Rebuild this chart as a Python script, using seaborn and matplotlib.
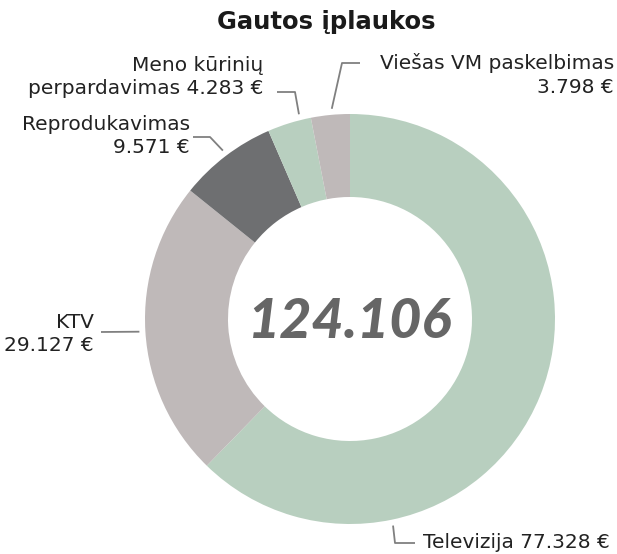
import matplotlib.pyplot as plt
import numpy as np
import seaborn as sns

# data
categories = ["Televizija", "KTV", "Reprodukavimas", "Meno kūrinių perpardavimas", "Viešas VM paskelbimas"]
values = [77328, 29127, 9571, 4283, 3798]
value_labels = ["77.328 €", "29.127 €", "9.571 €", "4.283 €", "3.798 €"]
total_label = "124.106"
title = "Gautos įplaukos"

GREEN = "#b8cfbf"
GREY = "#bfb9b9"
DARK = "#6e6f71"
colors = [GREEN, GREY, DARK, GREEN, GREY]

W, H = 617, 554
CX, CY = 350, 319          # ring centre, image pixels (y down)
R_OUT, R_IN = 205, 122

sns.set_theme(style="white")
plt.rcParams["font.family"] = ["DejaVu Sans"]

fig = plt.figure(figsize=(W / 100, H / 100), dpi=100)
ax = fig.add_axes([0, 0, 1, 1])
ax.axis("off")


def yy(y):
    return H - y


wedges, _ = ax.pie(values, colors=colors, startangle=90, counterclock=False,
                   radius=R_OUT, center=(CX, yy(CY)),
                   wedgeprops=dict(width=R_OUT - R_IN, linewidth=0))
ax.set_xlim(0, W)
ax.set_ylim(0, H)
ax.set_aspect("equal")

# label layout: position along wedge, elbow points, text anchor
layout = [
    dict(f=0.75, pts=[(395, 543), (415, 543)], xy=(423, 543), ha="left",
         text=f"{categories[0]} {value_labels[0]}"),
    dict(f=0.50, pts=[(101, 332)], xy=(94, 334), ha="right",
         text=f"{categories[1]}\n{value_labels[1]}"),
    dict(f=0.51, pts=[(210, 137), (193, 137)], xy=(190, 136), ha="right",
         text=f"{categories[2]}\n{value_labels[2]}"),
    dict(f=0.76, pts=[(295, 92), (277, 92)], xy=(263, 77), ha="right",
         text="Meno kūrinių\nperpardavimas " + value_labels[3]),
    dict(f=0.55, pts=[(342, 63), (360, 63)], xy=(614, 75), ha="right",
         text=f"{categories[4]}\n{value_labels[4]}"),
]

for w, lab in zip(wedges, layout):
    ang = np.deg2rad(w.theta2 - lab["f"] * (w.theta2 - w.theta1))
    sx = CX + 211 * np.cos(ang)
    sy = yy(CY) + 211 * np.sin(ang)
    xs = [sx] + [p[0] for p in lab["pts"]]
    ys = [sy] + [yy(p[1]) for p in lab["pts"]]
    ax.plot(xs, ys, color="#808080", lw=1.3, solid_capstyle="butt")
    ax.text(lab["xy"][0], yy(lab["xy"][1]), lab["text"], ha=lab["ha"], va="center",
            multialignment=lab["ha"], fontsize=14.5, color="#222222",
            linespacing=1.3)

ax.text(CX, yy(322), total_label, ha="center", va="center", fontsize=40,
        fontfamily="Lato", fontweight="black", fontstyle="italic", color="#666666")

ax.text(326, yy(22), title, ha="center", va="center", fontsize=17.5,
        fontweight="bold", color="#1a1a1a")

fig.savefig("out.png", dpi=100)
